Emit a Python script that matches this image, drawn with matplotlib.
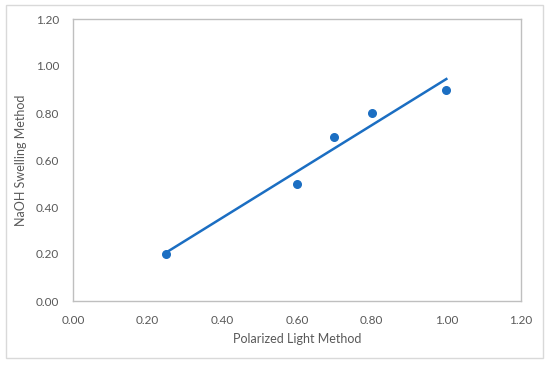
import matplotlib.pyplot as plt
import matplotlib.patches as mpatches
import numpy as np

plt.rcParams['font.family'] = ['Lato', 'DejaVu Sans']

# data
polarized = [0.25, 0.60, 0.70, 0.80, 1.00]
naoh = [0.20, 0.50, 0.70, 0.80, 0.90]
ticks = [0.0, 0.2, 0.4, 0.6, 0.8, 1.0, 1.2]

point_color = '#1b6ec2'
text_color = '#595959'
frame_color = '#bfbfbf'

fig = plt.figure(figsize=(5.5, 3.65), dpi=100)
ax = fig.add_axes([73 / 550, 1 - 301 / 365, 448 / 550, 282 / 365])

# outer chart border
fig.patches.append(mpatches.Rectangle((6 / 550, 1 - 358 / 365), 537 / 550, 353 / 365,
                                      transform=fig.transFigure, fill=False,
                                      edgecolor='#d9d9d9', linewidth=1))

ax.scatter(polarized, naoh, s=30, color=point_color, zorder=3)

# linear trendline
slope, intercept = np.polyfit(polarized, naoh, 1)
xs = np.array([min(polarized), max(polarized)])
ax.plot(xs, slope * xs + intercept, color=point_color, linewidth=1.8, zorder=2)

ax.set_xlim(0, 1.2)
ax.set_ylim(0, 1.2)
ax.set_xticks(ticks)
ax.set_yticks(ticks)
ax.set_xticklabels([f'{t:.2f}' for t in ticks])
ax.set_yticklabels([f'{t:.2f}' for t in ticks])
ax.tick_params(length=0, labelsize=8.5, colors=text_color, pad=10)
for sp in ax.spines.values():
    sp.set_color(frame_color)
    sp.set_linewidth(1)

ax.set_xlabel('Polarized Light Method', fontsize=9, color=text_color, labelpad=5)
ax.set_ylabel('NaOH Swelling Method', fontsize=9, color=text_color, labelpad=6)

fig.savefig('out.png', dpi=100)
